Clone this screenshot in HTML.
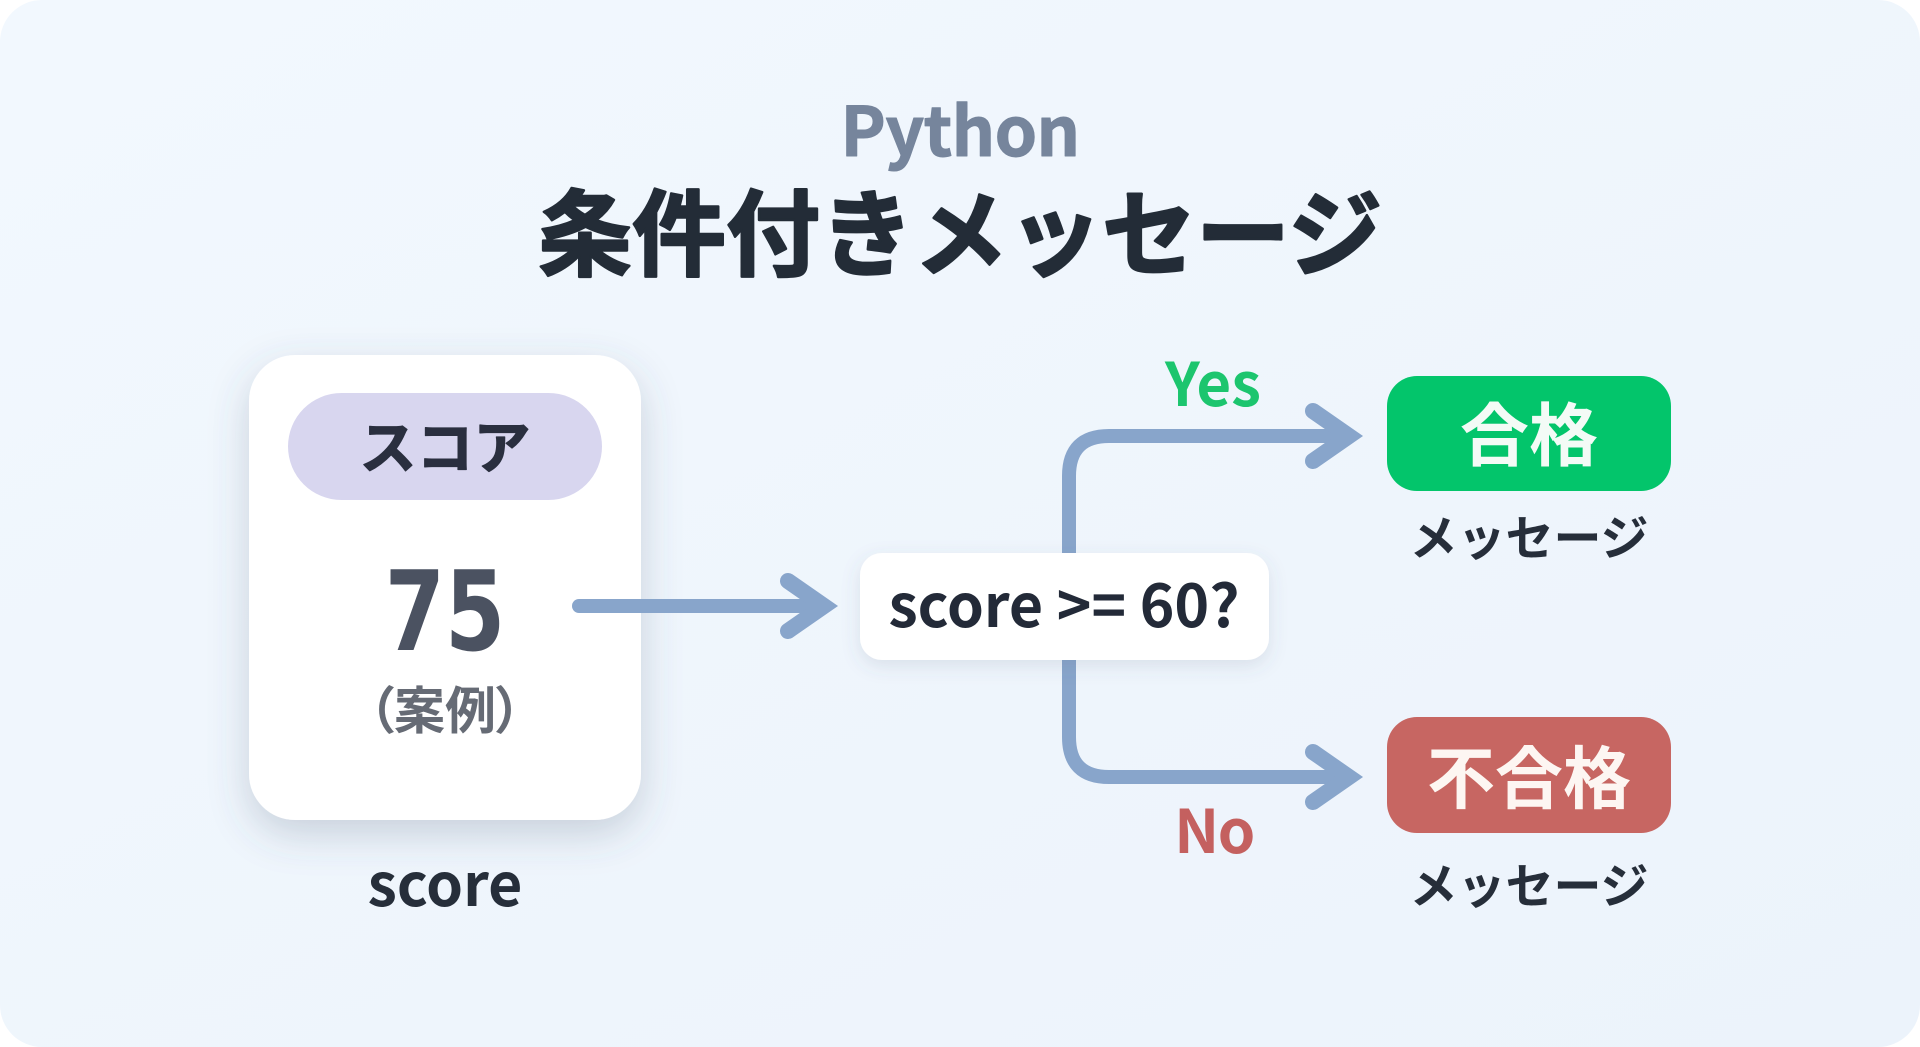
<!DOCTYPE html>
<html lang="ja">
<head>
<meta charset="utf-8">
<title>Python 条件付きメッセージ</title>
<style>
html,body{margin:0;padding:0;width:1920px;height:1047px;overflow:hidden;background:#fff}
svg{display:block;position:absolute;left:0;top:0}
text{font-family:"Liberation Sans","Noto Sans CJK JP",sans-serif}
.n{font-family:"Noto Sans CJK JP","Liberation Sans",sans-serif;font-weight:700;text-anchor:middle;stroke-linejoin:round}
</style>
</head>
<body>
<svg width="1920" height="1047" viewBox="0 0 1920 1047" xmlns="http://www.w3.org/2000/svg">
<defs>
<linearGradient id="bg" x1="0" y1="0" x2="1" y2="1">
<stop offset="0" stop-color="#f2f8fe"/>
<stop offset="1" stop-color="#ecf3fb"/>
</linearGradient>
<filter id="s1" x="-30%" y="-30%" width="160%" height="160%">
<feDropShadow dx="0" dy="14" stdDeviation="20" flood-color="#46586f" flood-opacity=".24"/>
</filter>
<filter id="s2" x="-20%" y="-40%" width="140%" height="190%">
<feDropShadow dx="0" dy="6" stdDeviation="9" flood-color="#4c5f78" flood-opacity=".14"/>
</filter>
</defs>
<rect x="0" y="0" width="1920" height="1047" rx="42" fill="url(#bg)"/>

<text class="n" x="960" y="156" font-size="68" fill="#76859c" stroke="#76859c" stroke-width="1" letter-spacing="-0.6">Python</text>
<text class="n" x="960" y="268" font-size="94" fill="#232c37" stroke="#232c37" stroke-width="2.4">条件付きメッセージ</text>

<rect x="249" y="355" width="392" height="465" rx="46" fill="#fff" filter="url(#s1)"/>
<rect x="288" y="393" width="314" height="107" rx="53.5" fill="#d8d6ef"/>
<text class="n" x="445" y="468" font-size="57" fill="#2a2f3f" stroke="#2a2f3f" stroke-width="1.2">スコア</text>
<text transform="translate(445 650) scale(.78 1)" x="0" y="0" font-size="111" font-weight="700" text-anchor="middle" fill="#4b5261" style="font-family:'DejaVu Sans',sans-serif">75</text>
<text class="n" x="445" y="729" font-size="51" fill="#666b75" style="font-feature-settings:'palt'">（案例）</text>
<text class="n" x="445" y="906" font-size="59" fill="#262e3a">score</text>

<g fill="none" stroke="#88a5cb" stroke-width="14" stroke-linecap="round" stroke-linejoin="miter">
<path d="M579 606H822"/>
<path d="M1069 600V476Q1069 436 1109 436H1347"/>
<path d="M1069 610V737Q1069 777 1109 777H1347"/>
</g>
<g fill="none" stroke="#88a5cb" stroke-width="16" stroke-linecap="round" stroke-linejoin="miter">
<path d="M788 581L824 606L788 631"/>
<path d="M1313 411L1349 436L1313 461"/>
<path d="M1313 752L1349 777L1313 802"/>
</g>

<rect x="860" y="553" width="409" height="107" rx="22" fill="#fff" filter="url(#s2)"/>
<text class="n" x="1064" y="627" font-size="59" fill="#232a38">score &gt;= 60?</text>

<text class="n" x="1213" y="406" font-size="60" fill="#1cc56e">Yes</text>
<text class="n" x="1214" y="853" font-size="60" fill="#c4605f" letter-spacing="-1.5">No</text>

<rect x="1387" y="376" width="284" height="115" rx="30" fill="#03c56b"/>
<text class="n" x="1529" y="460" font-size="69" fill="#f3fbf6">合格</text>
<text class="n" x="1529" y="555" font-size="48" fill="#262e3a">メッセージ</text>

<rect x="1387" y="717" width="284" height="116" rx="30" fill="#c76662"/>
<text class="n" x="1529" y="803" font-size="68" fill="#fdf6f2">不合格</text>
<text class="n" x="1529" y="903" font-size="48" fill="#262e3a">メッセージ</text>
</svg>
</body>
</html>
